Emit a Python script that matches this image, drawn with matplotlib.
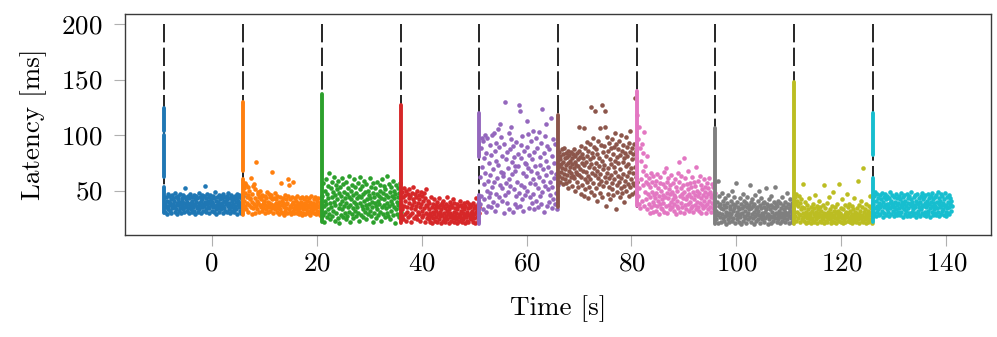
import numpy as np
import matplotlib
matplotlib.use("Agg")
import matplotlib.pyplot as plt

plt.rcParams['font.family'] = ['cmr10', 'DejaVu Serif']
plt.rcParams['mathtext.fontset'] = 'cm'
plt.rcParams['axes.formatter.use_mathtext'] = True

# ---- data ----
starts = [-9, 6, 21, 36, 51, 66, 81, 96, 111, 126]
seg_len = 15
colors = ['#1f77b4', '#ff7f0e', '#2ca02c', '#d62728', '#9467bd',
          '#8c564b', '#e377c2', '#7f7f7f', '#bcbd22', '#17becf']

# dense latency columns right at each phase start: (low, high) in ms
spike_blue = [(30, 53), (62, 100), (104, 124)]
spike_orange = [(28, 60), (68, 130)]
spike_green = [(22, 137)]
spike_red = [(21, 127)]
spike_purple = [(20, 46), (80, 120)]
spike_brown = [(35, 118)]
spike_pink = [(36, 140)]
spike_gray = [(20, 106)]
spike_olive = [(20, 148)]
spike_cyan = [(22, 61), (82, 120)]

blue = [
    38,31,44,35,41,29,47,36,33,40,45,32,39,42,30,37,46,34,43,38,
    35,41,31,48,36,44,33,39,29,42,37,45,32,40,34,47,38,30,43,36,
    41,33,46,39,31,44,35,52,37,42,32,40,45,34,38,30,43,36,47,33,
    39,41,31,44,35,38,46,32,42,37,29,40,45,34,43,36,31,48,39,33,
    44,37,41,30,46,35,42,38,32,45,36,54,40,33,43,31,47,38,35,41,
    34,44,30,39,46,37,42,32,40,35,45,38,31,43,36,49,33,41,29,44,
    37,40,34,46,31,42,38,35,45,33,39,43,30,47,36,41,34,44,32,40,
    38,45,31,42,36,48,33,39,43,30,37,46,35,41,32,44,38,34,42,31,
    45,36,40,33,47,29,43,37,41,35,46,32,39,44,30,38,42,34,45,36]
orange = [
    52,41,57,36,48,33,55,44,39,53,31,46,50,37,43,42,35,61,29,47,
    40,54,34,56,38,51,30,43,76,36,41,33,49,39,47,31,44,37,50,35,
    42,45,32,46,38,34,40,41,30,45,37,43,33,49,36,40,31,47,35,39,
    44,32,38,46,34,42,67,36,30,43,37,33,48,39,35,42,31,45,38,34,
    36,29,40,44,33,57,31,37,41,30,39,43,35,28,46,32,38,34,42,30,
    39,45,60,33,55,36,31,42,35,29,38,44,32,40,58,34,30,37,43,33,
    41,30,36,45,32,39,34,29,43,37,31,40,35,28,44,33,38,30,42,36,
    29,39,33,44,31,37,41,30,35,43,32,38,28,40,34,45,36,31,39,33,
    42,30,37,34,44,29,38,32,41,35,30,43,36,31,39,28,34,40,33,37]
green = [
    45,28,57,36,22,50,41,31,60,38,26,47,33,54,43,29,66,39,24,52,
    35,58,44,27,49,32,62,40,23,46,37,55,30,51,42,25,59,34,48,21,
    53,38,28,45,61,33,41,26,56,36,49,30,43,24,58,39,47,27,52,35,
    44,31,63,37,22,50,42,29,55,34,46,25,60,40,32,53,38,27,48,43,
    35,57,30,45,23,51,39,62,28,44,36,54,33,47,26,41,59,31,49,37,
    24,56,42,34,50,29,46,38,61,32,43,27,53,40,35,48,22,57,44,30,
    39,52,36,25,47,33,58,41,28,45,38,55,31,50,23,43,60,35,48,29,
    54,37,42,26,51,34,46,30,63,39,44,27,56,36,49,24,41,53,32,45,
    38,28,59,43,35,50,21,47,33,55,40,29,52,37,44,26,48,34,57,31]
red = [
    38,27,49,33,44,24,52,36,29,46,41,23,50,35,31,47,26,43,39,51,
    28,45,34,22,48,37,30,53,42,25,40,33,47,27,44,36,50,24,39,31,
    46,29,42,35,23,49,38,26,45,32,41,28,48,34,22,43,37,30,51,25,
    36,28,41,24,33,39,22,30,44,27,35,21,38,31,25,42,29,34,23,37,
    32,26,40,22,35,29,43,24,31,37,27,33,21,39,28,36,23,41,30,25,
    34,22,38,27,32,44,24,29,36,21,33,40,26,30,23,37,28,35,42,25,
    31,22,39,27,34,24,30,38,21,33,26,36,29,23,41,28,32,25,37,22,
    35,30,24,39,27,33,21,36,29,26,40,23,31,34,22,38,28,25,35,30,
    24,37,27,32,22,39,29,34,25,36,21,31,43,26,33,28,23,38,30,35]
purple = [
    62,38,88,45,97,71,33,95,56,79,42,100,66,31,84,50,97,59,36,75,
    44,48,91,64,35,82,53,100,69,40,102,58,86,32,77,47,93,61,37,105,
    73,44,89,55,110,98,67,41,81,52,66,63,30,92,46,130,57,78,39,85,
    70,49,102,60,33,87,54,96,107,76,65,31,90,51,80,38,72,68,45,94,
    58,35,83,72,127,48,122,36,91,55,79,42,99,66,32,86,53,75,46,74,
    63,113,89,50,101,70,34,82,57,44,95,68,39,78,60,104,47,85,33,72,
    56,97,41,66,88,52,35,103,62,45,80,73,38,93,123,49,59,69,31,84,
    54,99,110,77,64,36,90,51,71,40,87,58,46,115,67,34,81,53,96,42,
    75,61,38,92,48,65,65,33,86,55]
brown = [
    72,85,63,78,58,81,67,74,87,61,70,83,56,76,65,88,60,79,69,84,
    57,73,80,64,86,52,75,68,82,59,77,71,62,85,66,79,54,74,83,63,
    70,87,61,76,50,81,67,73,58,84,65,78,53,72,86,64,107,69,80,47,
    90,62,75,55,83,68,79,45,106,73,60,88,51,76,67,94,58,81,63,43,
    86,71,53,78,92,60,125,74,49,84,66,97,57,80,70,46,89,122,64,75,
    52,87,68,41,83,61,95,72,56,79,48,106,65,91,59,77,44,127,69,85,
    54,90,73,62,107,122,36,81,58,98,66,47,86,70,53,93,61,78,42,88,
    64,74,51,96,57,83,46,71,89,60,77,67,102,33,92,55,80,49,87,63,
    75,58,95,44,82,69,52,100,61,86,48,76,65,91,54,79,40,84,59,72,
    98,50,81,63,89,56,74,45,93,67,85,53,104,70,60,88,47,78,57,83,
    66,92,55,133,71,49,86,62,79,58]
pink = [
    118,45,96,38,107,52,88,34,77,60,92,41,68,55,84,36,103,49,72,58,
    64,42,81,33,56,47,38,61,30,53,44,66,35,49,58,40,31,63,46,37,
    55,43,32,59,48,36,65,41,52,29,45,57,38,62,34,50,42,33,56,46,
    39,67,31,53,44,70,36,48,58,30,43,61,37,51,33,47,55,40,64,35,
    49,42,57,32,46,38,60,44,29,53,36,50,41,66,34,58,76,45,31,52,
    39,63,47,35,55,43,30,79,49,37,61,42,33,56,45,68,38,51,32,47,
    57,40,34,53,44,62,36,49,31,58,42,37,54,46,33,71,40,50,35,45,
    59,32,48,39,63,43,30,55,37,51,46,34,60,41,49,36,53,30,44,57,
    38,47,33,52,41,61,35,49,44,31,56,39,46,34,53,42,37,58,48,36]
gray = [
    32,24,40,28,59,21,36,30,45,26,38,22,34,48,29,25,41,33,23,37,
    27,43,31,20,35,28,39,24,46,30,22,36,33,26,41,29,50,23,38,32,
    25,44,34,21,37,28,57,31,24,40,27,35,22,33,43,29,26,38,20,34,
    30,47,23,36,27,41,32,25,39,21,35,28,44,30,24,37,33,55,26,40,
    22,34,29,42,25,36,31,20,38,27,46,33,23,35,29,41,24,32,50,28,
    37,21,34,26,43,30,24,39,28,35,22,40,31,25,52,33,27,38,20,36,
    29,42,24,33,27,37,21,45,31,26,35,23,40,28,34,53,25,38,30,22,
    36,27,41,24,32,29,39,21,34,26,44,30,23,37,28,33,25,40,31,22,
    35,28,48,24,38,30,21,34,27,42,32,25,36,22,39,29,33,26,41,31]
olive = [
    44,27,38,23,47,31,41,25,36,29,45,22,39,28,33,42,24,35,30,26,
    56,23,34,27,40,21,31,25,37,29,22,33,26,43,24,30,28,35,21,32,
    25,38,23,29,34,22,27,46,31,24,36,28,21,33,26,30,41,23,35,27,
    22,32,28,25,37,24,30,21,55,27,34,23,29,26,39,22,31,25,44,28,
    24,33,21,30,27,36,23,49,26,32,22,28,35,25,31,21,38,24,29,27,
    32,23,56,26,30,22,34,28,25,42,21,33,27,24,37,29,22,31,26,47,
    28,35,23,30,25,38,22,32,27,24,36,21,29,33,26,43,23,31,25,28,
    30,22,34,26,59,24,29,37,21,32,27,25,41,23,35,28,70,22,31,26,
    33,24,29,21,38,27,25,32,22,36,28,24,30,45,23,34,26,21,31,27]
cyan = [
    38,30,45,34,49,27,41,36,31,47,33,43,28,39,46,35,29,42,37,32,
    48,26,40,35,44,30,37,47,28,42,33,38,45,31,36,27,43,39,34,49,
    29,41,36,46,32,38,27,44,35,40,30,47,33,37,28,43,39,31,45,34,
    42,28,37,48,31,40,35,26,44,38,33,46,29,41,36,32,47,27,39,43,
    34,45,30,38,27,42,36,49,31,40,33,28,44,37,46,30,35,41,26,39,
    47,32,38,29,43,35,40,27,45,33,37,48,30,42,36,28,44,39,31,46,
    35,27,41,37,32,47,29,43,38,34,26,45,40,31,36,48,28,42,33,39,
    44,30,36,46,28,40,34,49,31,38,27,43,35,41,29,47,37,32,45,33,
    39,28,42,36,48,31,37,27,44,34,40,30,46,35,29,43,38,32,41,36]

clouds = [blue, orange, green, red, purple, brown, pink, gray, olive, cyan]
spikes = [spike_blue, spike_orange, spike_green, spike_red, spike_purple,
          spike_brown, spike_pink, spike_gray, spike_olive, spike_cyan]
line_top = 200
line_bottom = 32

# ---- figure ----
fig = plt.figure(figsize=(9.97, 3.37), dpi=100)
ax = fig.add_axes([0.1254, 0.3027, 0.8686, 0.6558])

for s in starts:
    ax.plot([s, s], [line_top, line_bottom], color='black', lw=1.2,
            linestyle=(0, (11, 3.2)), zorder=1)

for s, vals, spk, c in zip(starts, clouds, spikes, colors):
    t = np.linspace(s + 0.1, s + seg_len, len(vals))
    ax.plot(t, vals, linestyle='none', marker='o', ms=3.3, mew=0,
            color=c, zorder=2)
    for lo, hi in spk:
        ax.plot([s, s], [lo, hi], color=c, lw=2.8,
                solid_capstyle='round', zorder=2)

ax.set_xlim(-16.5, 148.5)
ax.set_ylim(10, 209)
ax.set_xticks([0, 20, 40, 60, 80, 100, 120, 140])
ax.set_yticks([50, 100, 150, 200])
for sp in ax.spines.values():
    sp.set_color('#3a3a3a')
    sp.set_linewidth(1.0)
ax.tick_params(direction='out', length=8, width=0.8, color='#b0b0b0',
               labelsize=19.5)
ax.tick_params(axis='x', pad=4)
ax.tick_params(axis='y', pad=8)
ax.set_xlabel('Time [s]', fontsize=19.5, labelpad=14)
ax.set_ylabel('Latency [ms]', fontsize=19.5, labelpad=10)

fig.savefig('out.png', dpi=100)
